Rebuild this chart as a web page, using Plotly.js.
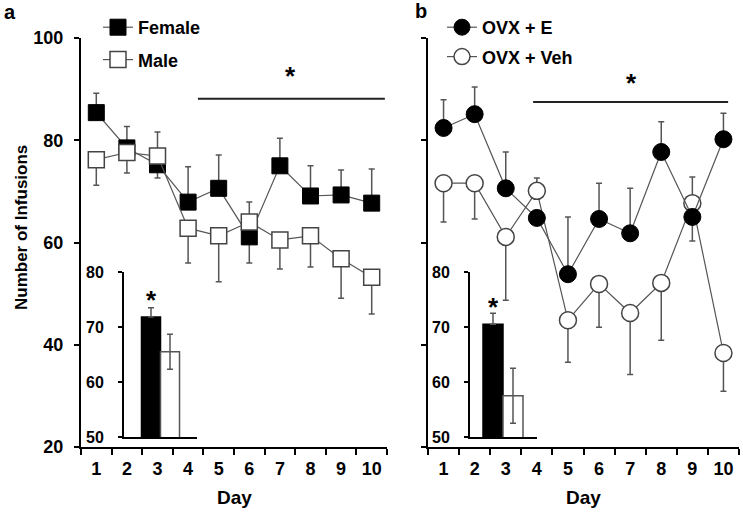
<!DOCTYPE html>
<html><head><meta charset="utf-8">
<script src="https://cdn.plot.ly/plotly-3.0.1.min.js"></script>
<style>html,body{margin:0;padding:0;background:#fff}#chart{width:743px;height:515px}</style>
</head><body><div id="chart"></div>
<script>
// ---------- data ----------
const days = [1, 2, 3, 4, 5, 6, 7, 8, 9, 10];
const dayTickLabels = ['1', '2', '3', '4', '5', '6', '7', '8', '9', '10'];
const dayBoundaries = [0.5, 1.5, 2.5, 3.5, 4.5, 5.5, 6.5, 7.5, 8.5, 9.5, 10.5];
const mainYTicks = [20, 40, 60, 80, 100];
const insetYTicks = [50, 60, 70, 80];

const femaleMean     = [85.4, 78.5, 75.2, 67.9, 70.6, 61.1, 75.0, 69.1, 69.3, 67.7];
const femaleErrUp    = [3.8, 4.2, 0, 6.9, 6.5, 0, 5.4, 5.9, 4.9, 6.7];
const femaleErrDown  = [0, 0, 2.6, 0, 0, 5.1, 0, 0, 0, 0];
const maleMean       = [76.2, 77.6, 76.9, 62.8, 61.3, 64.0, 60.5, 61.3, 56.8, 53.2];
const maleErrUp      = [0, 0, 4.7, 0, 0, 3.9, 0, 0, 0, 0];
const maleErrDown    = [5.0, 4.0, 0, 6.8, 9.0, 0, 5.7, 6.1, 7.7, 7.2];

const ovxEMean       = [82.4, 85.1, 70.6, 64.8, 53.8, 64.6, 61.8, 77.7, 65.0, 80.2];
const ovxEErrUp      = [5.5, 5.3, 7.1, 0, 11.2, 7.0, 8.8, 5.9, 0, 5.1];
const ovxEErrDown    = [0, 0, 0, 0, 0, 0, 0, 0, 4.7, 0];
const ovxVehMean     = [71.6, 71.6, 61.1, 70.1, 44.8, 51.9, 46.2, 52.1, 67.7, 38.4];
const ovxVehErrUp    = [0, 0, 0, 2.5, 0, 0, 0, 0, 5.1, 0];
const ovxVehErrDown  = [7.6, 7.0, 12.4, 0, 8.2, 8.5, 12.0, 11.2, 0, 7.5];

const insetGroups    = [1, 2];
const insetAMean     = [71.8, 65.5];
const insetAErrUp    = [1.7, 3.2];
const insetAErrDown  = [0, 3.2];
const insetBMean     = [70.5, 57.5];
const insetBErrUp    = [2.0, 5.0];
const insetBErrDown  = [0, 5.0];

// significance bars (day span, y level)
const sigA = {x: [4.32, 10.43], y: 88.1};
const sigB = {x: [3.88, 10.15], y: 87.5};

// ---------- helpers ----------
const W = 743, H = 515;
const px = v => v / W;
const py = v => 1 - v / H;
const FAM = 'Liberation Sans, Arial, Helvetica, sans-serif';
const font = (size, color) => ({family: FAM, size: size, color: color || '#000', weight: 'bold'});
const LINE = '#555';

function errBar(up, down) {
  return {type: 'data', symmetric: false, array: up, arrayminus: down,
          color: LINE, thickness: 1.5, width: 3};
}

const traces = [
  {x: days, y: femaleMean, xaxis: 'x', yaxis: 'y', type: 'scatter', mode: 'lines+markers',
   name: 'Female', legend: 'legend', legendgroup: 'f',
   line: {color: LINE, width: 1.2},
   marker: {symbol: 'square', size: 16, color: '#000', line: {color: '#000', width: 1}},
   error_y: errBar(femaleErrUp, femaleErrDown), cliponaxis: false},
  {x: days, y: maleMean, xaxis: 'x', yaxis: 'y', type: 'scatter', mode: 'lines+markers',
   name: 'Male', legend: 'legend', legendgroup: 'm',
   line: {color: LINE, width: 1.2},
   marker: {symbol: 'square', size: 16, color: '#fff', line: {color: '#444', width: 1.5}},
   error_y: errBar(maleErrUp, maleErrDown), cliponaxis: false},
  {x: days, y: ovxVehMean, xaxis: 'x2', yaxis: 'y2', type: 'scatter', mode: 'lines+markers',
   name: 'OVX + Veh', legend: 'legend2', legendgroup: 'v', legendrank: 2,
   line: {color: LINE, width: 1.2},
   marker: {symbol: 'circle', size: 17, color: '#fff', line: {color: '#444', width: 1.5}},
   error_y: errBar(ovxVehErrUp, ovxVehErrDown), cliponaxis: false},
  {x: days, y: ovxEMean, xaxis: 'x2', yaxis: 'y2', type: 'scatter', mode: 'lines+markers',
   name: 'OVX + E', legend: 'legend2', legendgroup: 'e', legendrank: 1,
   line: {color: LINE, width: 1.2},
   marker: {symbol: 'circle', size: 17, color: '#000', line: {color: '#000', width: 1}},
   error_y: errBar(ovxEErrUp, ovxEErrDown), cliponaxis: false},
  {x: insetGroups, y: insetAMean, xaxis: 'x3', yaxis: 'y3', type: 'bar', width: [1, 1],
   showlegend: false, hoverinfo: 'skip',
   marker: {color: ['#000', '#fff'], line: {color: ['#000', '#555'], width: 1.5}},
   error_y: errBar(insetAErrUp, insetAErrDown)},
  {x: insetGroups, y: insetBMean, xaxis: 'x4', yaxis: 'y4', type: 'bar', width: [1, 1],
   showlegend: false, hoverinfo: 'skip',
   marker: {color: ['#000', '#fff'], line: {color: ['#000', '#555'], width: 1.5}},
   error_y: errBar(insetBErrUp, insetBErrDown)}
];

function mainX(dom, anchor) {
  return {domain: dom, anchor: anchor, range: [0.5, 10.5],
    tickmode: 'array', tickvals: days, ticktext: dayTickLabels, ticks: '',
    ticklabelstandoff: 4,
    minor: {tickmode: 'array', tickvals: dayBoundaries, ticks: 'outside', ticklen: 6,
            tickwidth: 2, tickcolor: '#000', showgrid: false},
    showline: true, linecolor: '#000', linewidth: 2, showgrid: false, zeroline: false,
    tickfont: font(18), fixedrange: true};
}
function mainY(dom, anchor, labels) {
  return {domain: dom, anchor: anchor, range: [20, 100], tickmode: 'array', tickvals: mainYTicks,
    ticks: 'outside', ticklen: 5, tickwidth: 2, tickcolor: '#000', showticklabels: labels,
    ticklabelstandoff: 7,
    showline: true, linecolor: '#000', linewidth: 2, showgrid: false, zeroline: false,
    tickfont: font(18), fixedrange: true};
}
function insetX(dom, anchor, range) {
  return {domain: dom, anchor: anchor, range: range, showticklabels: false, ticks: '',
    showline: true, linecolor: '#000', linewidth: 2, showgrid: false, zeroline: false, fixedrange: true};
}
function insetY(dom, anchor) {
  return {domain: dom, anchor: anchor, range: [50, 80], tickmode: 'array', tickvals: insetYTicks,
    ticks: 'outside', ticklen: 4, tickwidth: 2, tickcolor: '#000', ticklabelstandoff: 11,
    showline: true, linecolor: '#000', linewidth: 2, showgrid: false, zeroline: false,
    tickfont: font(16), fixedrange: true};
}

const yDom = [py(447), py(38)];
const insetDom = [py(437), py(272)];

function note(text, x, y, size, extra) {
  return Object.assign({text: text, xref: 'paper', yref: 'paper', x: px(x), y: py(y),
    xanchor: 'center', yanchor: 'middle', showarrow: false, font: font(size)}, extra || {});
}

const layout = {
  width: W, height: H, margin: {l: 0, r: 0, t: 0, b: 0, pad: 0},
  paper_bgcolor: '#fff', plot_bgcolor: 'rgba(0,0,0,0)',
  showlegend: true, bargap: 0,
  xaxis: mainX([px(81), px(387)], 'y'),
  yaxis: mainY(yDom, 'x', true),
  xaxis2: mainX([px(428), px(739)], 'y2'),
  yaxis2: mainY(yDom, 'x2', false),
  xaxis3: insetX([px(124), px(197)], 'y3', [-0.42, 3.42]),
  yaxis3: insetY(insetDom, 'x3'),
  xaxis4: insetX([px(470), px(537)], 'y4', [-0.15, 3.2]),
  yaxis4: insetY(insetDom, 'x4'),
  legend: {x: px(98), y: py(9), xanchor: 'left', yanchor: 'top', font: font(18),
           bgcolor: 'rgba(0,0,0,0)', borderwidth: 0, traceorder: 'grouped', tracegroupgap: 6},
  legend2: {x: px(442), y: py(9), xanchor: 'left', yanchor: 'top', font: font(18),
           bgcolor: 'rgba(0,0,0,0)', borderwidth: 0, traceorder: 'grouped', tracegroupgap: 3},
  shapes: [
    {type: 'line', xref: 'x', yref: 'y', x0: sigA.x[0], x1: sigA.x[1], y0: sigA.y, y1: sigA.y,
     line: {color: '#222', width: 2}},
    {type: 'line', xref: 'x2', yref: 'y2', x0: sigB.x[0], x1: sigB.x[1], y0: sigB.y, y1: sigB.y,
     line: {color: '#222', width: 2}}
  ],
  annotations: [
    note('a', 10, 12, 20),
    note('b', 421, 11, 20),
    note('Number of Infusions', 21, 228, 17, {textangle: -90}),
    note('Day', 234, 497, 19),
    note('Day', 583, 497, 19),
    note('*', 290, 76, 26),
    note('*', 631, 83, 26),
    note('*', 151, 300, 26),
    note('*', 493, 307, 26)
  ]
};

Plotly.newPlot('chart', traces, layout, {staticPlot: true, displayModeBar: false});
</script>
</body></html>
